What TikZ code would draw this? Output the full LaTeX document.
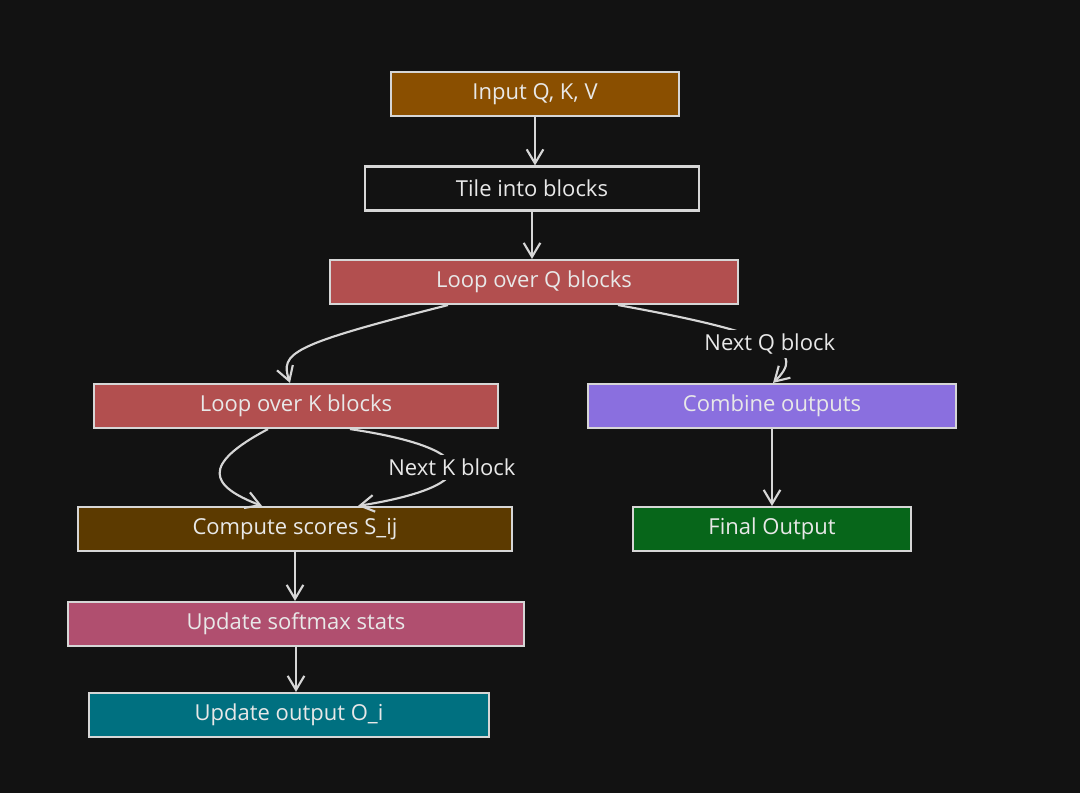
\documentclass[tikz,border=0pt]{standalone}
\usepackage{fontspec}
\setmainfont{Open Sans}
\usetikzlibrary{arrows.meta}
\definecolor{bg}{HTML}{121212}
\definecolor{stroke}{HTML}{D6D6D6}
\definecolor{txt}{HTML}{E8E8E8}
\definecolor{inpc}{HTML}{8A4F00}
\definecolor{loopc}{HTML}{B24F4F}
\definecolor{combc}{HTML}{8A6FDF}
\definecolor{compc}{HTML}{5C3A00}
\definecolor{finalc}{HTML}{07661A}
\definecolor{softc}{HTML}{B04F6F}
\definecolor{outc}{HTML}{007080}
\begin{document}
\begin{tikzpicture}[x=0.75pt,y=-0.75pt,
  box/.style={draw=stroke, line width=1.6pt, minimum height=33pt, inner sep=0pt, text=txt, font=\fontsize{16.5}{19}\selectfont},
  conn/.style={draw=stroke, line width=1.6pt, -{Straight Barb[length=10.5pt,width=12.5pt]}},
  lbl/.style={fill=bg, text=txt, inner sep=3pt, font=\fontsize{16.5}{19}\selectfont}]
\fill[bg] (0,0) rectangle (1080,793);
\useasboundingbox (0,0) rectangle (1080,793);
\node[box, fill=inpc, minimum width=216pt] (inp) at (535,94) {Input Q, K, V};
\node[box, fill=bg, minimum width=250.5pt] (tile) at (532,188.5) {Tile into blocks};
\node[box, fill=loopc, minimum width=306pt] (loopq) at (534,282) {Loop over Q blocks};
\node[box, fill=loopc, minimum width=303pt] (loopk) at (296,406) {Loop over K blocks};
\node[box, fill=combc, minimum width=276pt] (comb) at (772,406) {Combine outputs};
\node[box, fill=compc, minimum width=325.5pt] (comp) at (295,529) {Compute scores S\_ij};
\node[box, fill=finalc, minimum width=208.5pt] (final) at (772,529) {Final Output};
\node[box, fill=softc, minimum width=342pt] (soft) at (296,624) {Update softmax stats};
\node[box, fill=outc, minimum width=300pt] (outp) at (289,715) {Update output O\_i};
\draw[conn] (inp.south) -- (inp.south |- tile.north);
\draw[conn] (tile.south) -- (tile.south |- loopq.north);
\draw[conn] ([xshift=-64.5pt]loopq.south) .. controls +(-158,40) and +(-10,-30) .. ([xshift=-4.5pt]loopk.north);
\draw[conn] ([xshift=63pt]loopq.south) .. controls +(167,30) and +(31,-30) .. node[lbl] (lq) {Next Q block} ([xshift=0.75pt]comb.north);
\draw[conn] (comb.south) -- (comb.south |- final.north);
\draw[conn] ([xshift=-21pt]loopk.south) .. controls +(-68,36) and +(-52,-20) .. ([xshift=-24.75pt]comp.north);
\draw[conn] ([xshift=40.5pt]loopk.south) .. controls +(135,20) and +(126,-20) .. node[lbl] (lk) {Next K block} ([xshift=47.25pt]comp.north);
\draw[conn] (comp.south) -- (comp.south |- soft.north);
\draw[conn] (soft.south) -- (soft.south |- outp.north);
\end{tikzpicture}
\end{document}
